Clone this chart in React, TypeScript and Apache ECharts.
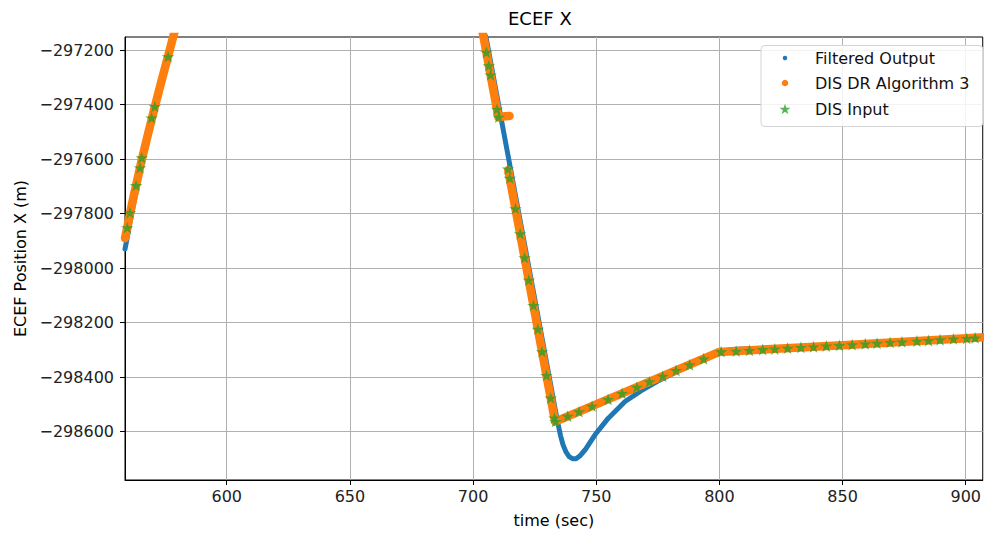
import React, { useEffect, useRef } from "react";
import * as echarts from "echarts";

const xTicks = [600, 650, 700, 750, 800, 850, 900];
const yTicks = [-298600, -298400, -298200, -298000, -297800, -297600, -297400, -297200];
const xRange = [558.7, 906.9];
const yRange = [-298778, -297152];

// Filtered Output (dense trajectory)
const filteredOutput: [number, number][] = [
  [558.7, -297930], [559.4, -297898], [560.2, -297858], [561.2, -297810], [562.5, -297752],
  [564.0, -297683], [565.5, -297610], [568.0, -297515], [570.8, -297412], [573.5, -297317],
  [576.2, -297224], [578.0, -297162], [580.0, -297095],
  [702.5, -297068], [705.3, -297155], [715.0, -297626], [725.0, -298112], [731.5, -298428],
  [733.3, -298516], [734.5, -298572], [735.5, -298615], [736.5, -298648], [737.7, -298675],
  [739.0, -298692], [740.4, -298700], [741.8, -298700], [743.3, -298690], [745.5, -298667],
  [749.5, -298612], [754.9, -298551], [761.7, -298490], [768.3, -298450], [775.0, -298415],
  [781.0, -298388], [787.0, -298363], [793.0, -298335], [800.0, -298309], [805.0, -298299],
  [812.0, -298296], [820.0, -298295], [850.0, -298283], [908.0, -298254],
];

// DIS DR Algorithm 3 — ascent, upper descent and the flat stub
const drFirst: [number, number][] = [
  [558.7, -297890], [559.6, -297852], [560.7, -297802], [562.0, -297745], [563.2, -297697],
  [565.5, -297603], [568.0, -297510], [570.8, -297408], [573.5, -297314], [576.2, -297222],
  [578.0, -297160], [580.0, -297095],
  [701.5, -297019], [704.3, -297155], [710.3, -297447], [711.5, -297445], [713.0, -297443],
  [714.8, -297442],
];

// DIS DR Algorithm 3 — lower descent and the rising tail
const drSecond: [number, number][] = [
  [714.3, -297641], [733.3, -298564], [743.0, -298527], [760.0, -298462], [780.0, -298385],
  [800.0, -298308], [850.0, -298283], [908.0, -298254],
];

// DIS Input (star markers)
const disInput: [number, number][] = [
  [559.6, -297852], [560.7, -297797], [563.2, -297697], [564.8, -297632], [565.5, -297595],
  [569.5, -297449], [570.8, -297407], [576.2, -297224],
  [705.4, -297208], [706.4, -297257], [707.1, -297291], [709.7, -297417], [710.4, -297446],
  [714.2, -297636], [714.9, -297670], [717.2, -297782], [719.1, -297874], [720.9, -297962],
  [722.6, -298044], [724.5, -298137], [726.3, -298224], [728.0, -298307], [729.8, -298394],
  [731.5, -298477], [733.0, -298550],
  [733.5, -298563], [738.4, -298544], [743.0, -298527], [748.3, -298507], [754.8, -298482],
  [760.5, -298460], [766.5, -298437], [771.6, -298417], [777.0, -298397], [782.4, -298376],
  [787.9, -298355], [793.6, -298333], [800.7, -298307],
  [806.8, -298305], [812.2, -298302], [817.6, -298299], [822.5, -298297], [827.7, -298294],
  [833.1, -298291], [838.2, -298289], [843.4, -298286], [848.7, -298284], [853.9, -298281],
  [859.2, -298278], [864.0, -298276], [869.3, -298273], [874.1, -298271], [880.2, -298268],
  [884.9, -298266], [889.6, -298263], [895.0, -298260], [900.4, -298258], [903.8, -298256],
];

const NAMES = ["Filtered Output", "DIS DR Algorithm 3", "DIS Input"];
const COLORS = ["#1f77b4", "#ff7f0e", "#2ca02c"];
const STAR =
  "path://M50,0 L61.17,34.63 L97.55,34.55 L68.07,55.87 L79.39,90.45 L50,69 L20.61,90.45 L31.93,55.87 L2.45,34.55 L38.83,34.63 Z";
const FONT = "DejaVu Sans";

export default function App() {
  const ref = useRef<HTMLDivElement>(null);
  useEffect(() => {
    if (!ref.current) return;
    const chart = echarts.init(ref.current, undefined, { renderer: "svg" });
    const legendBase = (name: string, icon: string, size: number, top: number) => ({
      data: [{ name, icon }],
      left: 785 - size / 2,
      top,
      padding: 0,
      itemWidth: size,
      itemHeight: size,
      selectedMode: false,
      itemStyle: { borderWidth: 0 },
      textStyle: {
        fontSize: 16,
        fontFamily: FONT,
        color: "#111",
        lineHeight: 18,
        padding: [0, 0, 0, 815 - (785 + size / 2 + 5)],
      },
      z: 6,
    });
    chart.setOption({
      animation: false,
      backgroundColor: "#fff",
      title: {
        text: "ECEF X",
        left: 508,
        top: 9,
        padding: 0,
        textStyle: { fontSize: 18, fontWeight: "normal", fontFamily: FONT, color: "#000" },
      },
      grid: {
        left: 125,
        right: -2,
        top: 37,
        bottom: 51,
        show: true,
        borderColor: "#000",
        borderWidth: 1,
        backgroundColor: "transparent",
      },
      xAxis: {
        type: "value",
        min: xRange[0],
        max: xRange[1],
        name: "time (sec)",
        nameLocation: "middle",
        nameGap: 32,
        nameTextStyle: { fontSize: 16, fontFamily: FONT, color: "#000" },
        axisLine: { show: true, lineStyle: { color: "#000", width: 1 } },
        axisTick: { show: true, length: 5, lineStyle: { color: "#000" }, customValues: xTicks },
        axisLabel: { fontSize: 16, fontFamily: FONT, color: "#222", margin: 8, customValues: xTicks },
        splitLine: { show: true, lineStyle: { color: "#b0b0b0", width: 1 } },
      },
      yAxis: {
        type: "value",
        min: yRange[0],
        max: yRange[1],
        name: "ECEF Position X (m)",
        nameLocation: "middle",
        nameGap: 96,
        nameTextStyle: { fontSize: 16, fontFamily: FONT, color: "#000" },
        axisLine: { show: true, lineStyle: { color: "#000", width: 1 } },
        axisTick: { show: true, length: 5, lineStyle: { color: "#000" }, customValues: yTicks },
        axisLabel: {
          fontSize: 16,
          fontFamily: FONT,
          color: "#222",
          margin: 11,
          customValues: yTicks,
          formatter: (v: number) => String(v).replace("-", "\u2212"),
        },
        splitLine: { show: true, lineStyle: { color: "#b0b0b0", width: 1 } },
      },
      legend: [
        legendBase(NAMES[0], "circle", 4.5, 49),
        legendBase(NAMES[1], "circle", 6.5, 74),
        legendBase(NAMES[2], STAR, 11, 100),
      ],
      graphic: [
        {
          type: "rect",
          z: 5,
          shape: { x: 761, y: 45.5, width: 222, height: 81, r: 4 },
          style: { fill: "rgba(255,255,255,0.85)", stroke: "#d4d4d4", lineWidth: 1 },
        },
      ],
      series: [
        {
          name: NAMES[0],
          type: "line",
          data: filteredOutput,
          showSymbol: false,
          silent: true,
          color: COLORS[0],
          lineStyle: { color: COLORS[0], width: 5, cap: "round", join: "round" },
          z: 2,
        },
        {
          name: NAMES[1],
          type: "line",
          data: drFirst,
          showSymbol: false,
          silent: true,
          color: COLORS[1],
          lineStyle: { color: COLORS[1], width: 8.5, cap: "round", join: "round" },
          z: 3,
        },
        {
          name: NAMES[1],
          type: "line",
          data: drSecond,
          showSymbol: false,
          silent: true,
          color: COLORS[1],
          lineStyle: { color: COLORS[1], width: 8.5, cap: "round", join: "round" },
          z: 3,
        },
        {
          name: NAMES[2],
          type: "scatter",
          data: disInput,
          symbol: STAR,
          symbolSize: 12.5,
          symbolKeepAspect: true,
          silent: true,
          color: COLORS[2],
          itemStyle: { color: COLORS[2] },
          z: 4,
        },
      ],
    });
    return () => chart.dispose();
  }, []);
  return (
    <div
      ref={ref}
      style={{ position: "fixed", left: 0, top: 0, width: 984, height: 533, background: "#fff" }}
    />
  );
}
